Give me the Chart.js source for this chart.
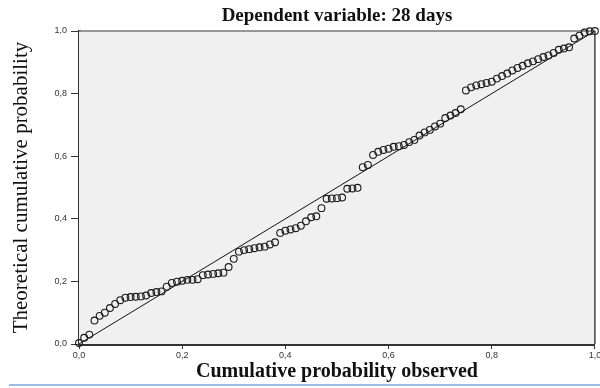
<!DOCTYPE html>
<html>
<head>
<meta charset="utf-8">
<script src="https://cdn.jsdelivr.net/npm/chart.js@4/dist/chart.umd.min.js"></script>
<style>
  html, body { margin: 0; padding: 0; background: #fff; overflow: hidden; }
  #wrap { position: relative; width: 600px; height: 388px; }
  #linha-azul { position: absolute; left: 9px; top: 384px; width: 591px; height: 2px; background: #9dbde6; }
</style>
</head>
<body>
<div id="wrap">
  <canvas id="grafico" width="600" height="388"></canvas>
  <div id="linha-azul"></div>
</div>
<script>
// P-P plot: probabilidade acumulada observada x teórica
const tituloGrafico = 'Dependent variable: 28 days';
const tituloX = 'Cumulative probability observed';
const tituloY = 'Theoretical cumulative probability';
const rotulosTicks = ['0,0', '0,2', '0,4', '0,6', '0,8', '1,0'];

const observada = [
  0.00, 0.01, 0.02, 0.03, 0.04, 0.05, 0.06, 0.07, 0.08, 0.09,
  0.10, 0.11, 0.12, 0.13, 0.14, 0.15, 0.16, 0.17, 0.18, 0.19,
  0.20, 0.21, 0.22, 0.23, 0.24, 0.25, 0.26, 0.27, 0.28, 0.29,
  0.30, 0.31, 0.32, 0.33, 0.34, 0.35, 0.36, 0.37, 0.38, 0.39,
  0.40, 0.41, 0.42, 0.43, 0.44, 0.45, 0.46, 0.47, 0.48, 0.49,
  0.50, 0.51, 0.52, 0.53, 0.54, 0.55, 0.56, 0.57, 0.58, 0.59,
  0.60, 0.61, 0.62, 0.63, 0.64, 0.65, 0.66, 0.67, 0.68, 0.69,
  0.70, 0.71, 0.72, 0.73, 0.74, 0.75, 0.76, 0.77, 0.78, 0.79,
  0.80, 0.81, 0.82, 0.83, 0.84, 0.85, 0.86, 0.87, 0.88, 0.89,
  0.90, 0.91, 0.92, 0.93, 0.94, 0.95, 0.96, 0.97, 0.98, 0.99,
  1.00
];
const teorica = [
  0.003, 0.020, 0.030, 0.075, 0.090, 0.100, 0.115, 0.128, 0.140, 0.148,
  0.150, 0.151, 0.152, 0.155, 0.163, 0.166, 0.168, 0.183, 0.195, 0.199,
  0.202, 0.205, 0.205, 0.207, 0.220, 0.222, 0.224, 0.226, 0.228, 0.246,
  0.272, 0.295, 0.300, 0.303, 0.306, 0.309, 0.311, 0.318, 0.325, 0.355,
  0.362, 0.366, 0.370, 0.378, 0.392, 0.405, 0.408, 0.434, 0.464, 0.465,
  0.466, 0.468, 0.496, 0.497, 0.499, 0.565, 0.572, 0.604, 0.614, 0.620,
  0.624, 0.630, 0.632, 0.636, 0.645, 0.652, 0.666, 0.676, 0.684, 0.695,
  0.704, 0.722, 0.730, 0.738, 0.750, 0.810, 0.820, 0.826, 0.830, 0.834,
  0.838, 0.848, 0.856, 0.864, 0.874, 0.882, 0.889, 0.897, 0.903, 0.910,
  0.917, 0.922, 0.930, 0.940, 0.944, 0.948, 0.976, 0.985, 0.995, 0.999,
  1.000
];
const linhaReferencia = [0, 1];

// fundo cinza e moldura fina da área de plotagem
const fundoPlot = {
  id: 'fundoPlot',
  beforeDatasetsDraw(chart) {
    const { ctx, chartArea: a } = chart;
    ctx.save();
    ctx.fillStyle = '#f0f0f0';
    ctx.fillRect(a.left, a.top, a.right - a.left, a.bottom - a.top);
    ctx.lineWidth = 1.5;
    ctx.strokeStyle = '#777';
    ctx.beginPath();
    ctx.moveTo(a.left, a.top);
    ctx.lineTo(a.right, a.top);
    ctx.stroke();
    ctx.strokeStyle = '#444';
    ctx.beginPath();
    ctx.moveTo(a.right, a.top);
    ctx.lineTo(a.right, a.bottom);
    ctx.stroke();
    ctx.restore();
  }
};

const fonteTick = { family: 'Liberation Sans', size: 9 };
const rotulo = (v) => rotulosTicks[Math.round(v / 0.2)] || '';

new Chart(document.getElementById('grafico'), {
  type: 'scatter',
  data: {
    datasets: [
      {
        type: 'line',
        data: linhaReferencia.map(v => ({ x: v, y: v })),
        borderColor: '#111', borderWidth: 1, pointRadius: 0, clip: false, order: 2
      },
      {
        data: observada.map((x, i) => ({ x, y: teorica[i] })),
        pointStyle: 'circle', pointRadius: 3.4, borderWidth: 1.1,
        borderColor: '#1a1a1a', backgroundColor: 'rgba(0,0,0,0)', clip: false, order: 1
      }
    ]
  },
  options: {
    responsive: false, animation: false,
    layout: { padding: { left: 0, right: 0, top: 0, bottom: 0 } },
    plugins: {
      legend: { display: false },
      tooltip: { enabled: false },
      title: {
        display: true, text: tituloGrafico, color: '#111', fullSize: false,
        font: { family: 'Liberation Serif', size: 19, weight: 'bold' },
        padding: { top: 5, bottom: 3.2 }
      }
    },
    scales: {
      x: {
        type: 'linear', min: 0, max: 1,
        afterFit: s => { s.paddingLeft = 0; s.paddingRight = 0; s.height = 44; },
        border: { display: true, color: '#333', width: 3 },
        grid: { drawOnChartArea: false, drawTicks: true, tickLength: 5, color: '#333' },
        ticks: { stepSize: 0.2, padding: 1, color: '#333', font: fonteTick, maxRotation: 0, callback: rotulo },
        title: {
          display: true, text: tituloX, color: '#111',
          font: { family: 'Liberation Serif', size: 20, weight: 'bold' },
          padding: { top: 0, bottom: 4 }
        }
      },
      y: {
        type: 'linear', min: 0, max: 1,
        afterFit: s => { s.paddingTop = 0; s.paddingBottom = 0; s.width = 79; },
        border: { display: true, color: '#333', width: 3 },
        grid: { drawOnChartArea: false, drawTicks: true, tickLength: 8, color: '#333' },
        ticks: { stepSize: 0.2, padding: 4, color: '#333', font: fonteTick, callback: rotulo },
        title: {
          display: true, text: tituloY, color: '#111',
          font: { family: 'Liberation Serif', size: 21 },
          padding: { top: 9, bottom: 0 }
        }
      }
    }
  },
  plugins: [fundoPlot]
});
</script>
</body>
</html>
